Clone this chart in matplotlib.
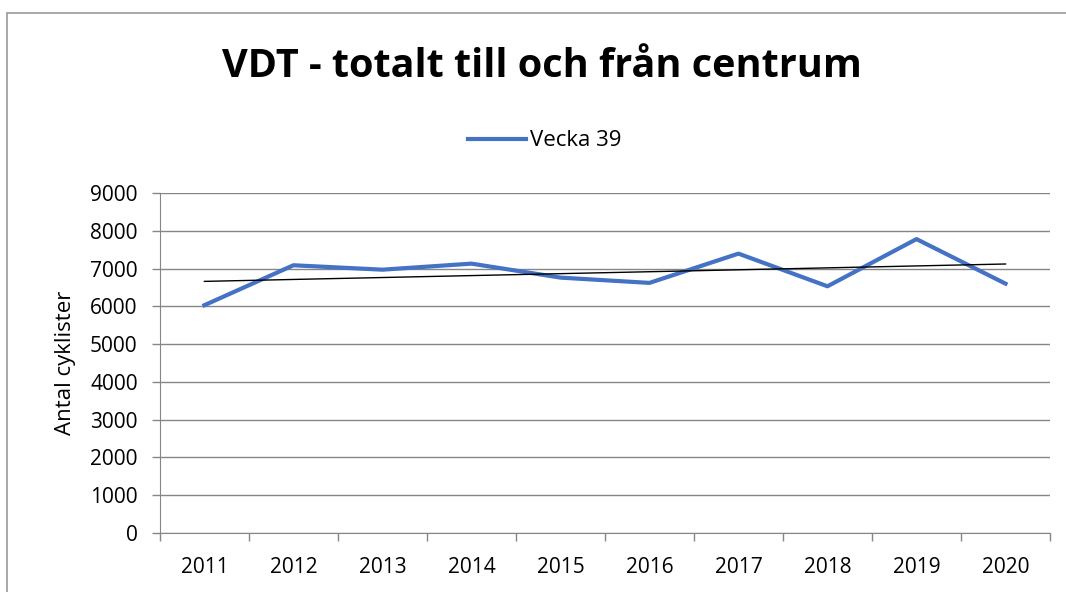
import numpy as np
import matplotlib.pyplot as plt
from matplotlib.patches import Rectangle

# Data
years = ['2011', '2012', '2013', '2014', '2015', '2016', '2017', '2018', '2019', '2020']
vecka39 = [6030, 7087, 6970, 7130, 6760, 6620, 7395, 6530, 7780, 6600]

plt.rcParams['font.family'] = ['Open Sans', 'DejaVu Sans']

fig = plt.figure(figsize=(10.66, 5.92), dpi=100)
ax = fig.add_axes([0.150, 0.0997, 0.835, 0.5743])

x = np.arange(len(years))
ax.plot(x, vecka39, color='#4472C4', linewidth=3, label='Vecka 39')

# Linear trendline (Excel style)
k, m = np.polyfit(x, vecka39, 1)
ax.plot(x, k * x + m, color='black', linewidth=1)

ax.set_xlim(-0.5, len(years) - 0.5)
ax.set_ylim(0, 9000)
ax.set_yticks(range(0, 9001, 1000))
ax.set_xticks(x)
ax.set_xticklabels(years)
ax.set_xticks(np.arange(-0.5, len(years), 1), minor=True)
ax.tick_params(axis='x', which='major', length=0, pad=17, labelsize=15)
ax.tick_params(axis='x', which='minor', length=6, color='#868686', width=1)
ax.tick_params(axis='y', length=6, color='#868686', width=1, labelsize=15, pad=10)

ax.grid(axis='y', color='#868686', linewidth=1)
ax.set_axisbelow(True)
for s in ['top', 'right']:
    ax.spines[s].set_visible(False)
ax.spines['left'].set_color('#868686')
ax.spines['bottom'].set_color('#868686')

ax.set_ylabel('Antal cyklister', fontsize=16, labelpad=10)

fig.text(0.508, 0.888, 'VDT - totalt till och från centrum', ha='center', va='center',
         fontsize=28.5, fontweight='bold')
leg = ax.legend(loc='center', bbox_to_anchor=(0.511, 0.762), bbox_transform=fig.transFigure,
                frameon=False, fontsize=16, handlelength=2.6, handletextpad=0.15)

# Chart area border
fig.patches.append(Rectangle((7 / 1066, -0.1), 1.2, 1.1 - 12.5 / 592, transform=fig.transFigure,
                             fill=False, edgecolor='#9a9a9a', linewidth=1.2))

fig.savefig('out.png', dpi=100)
